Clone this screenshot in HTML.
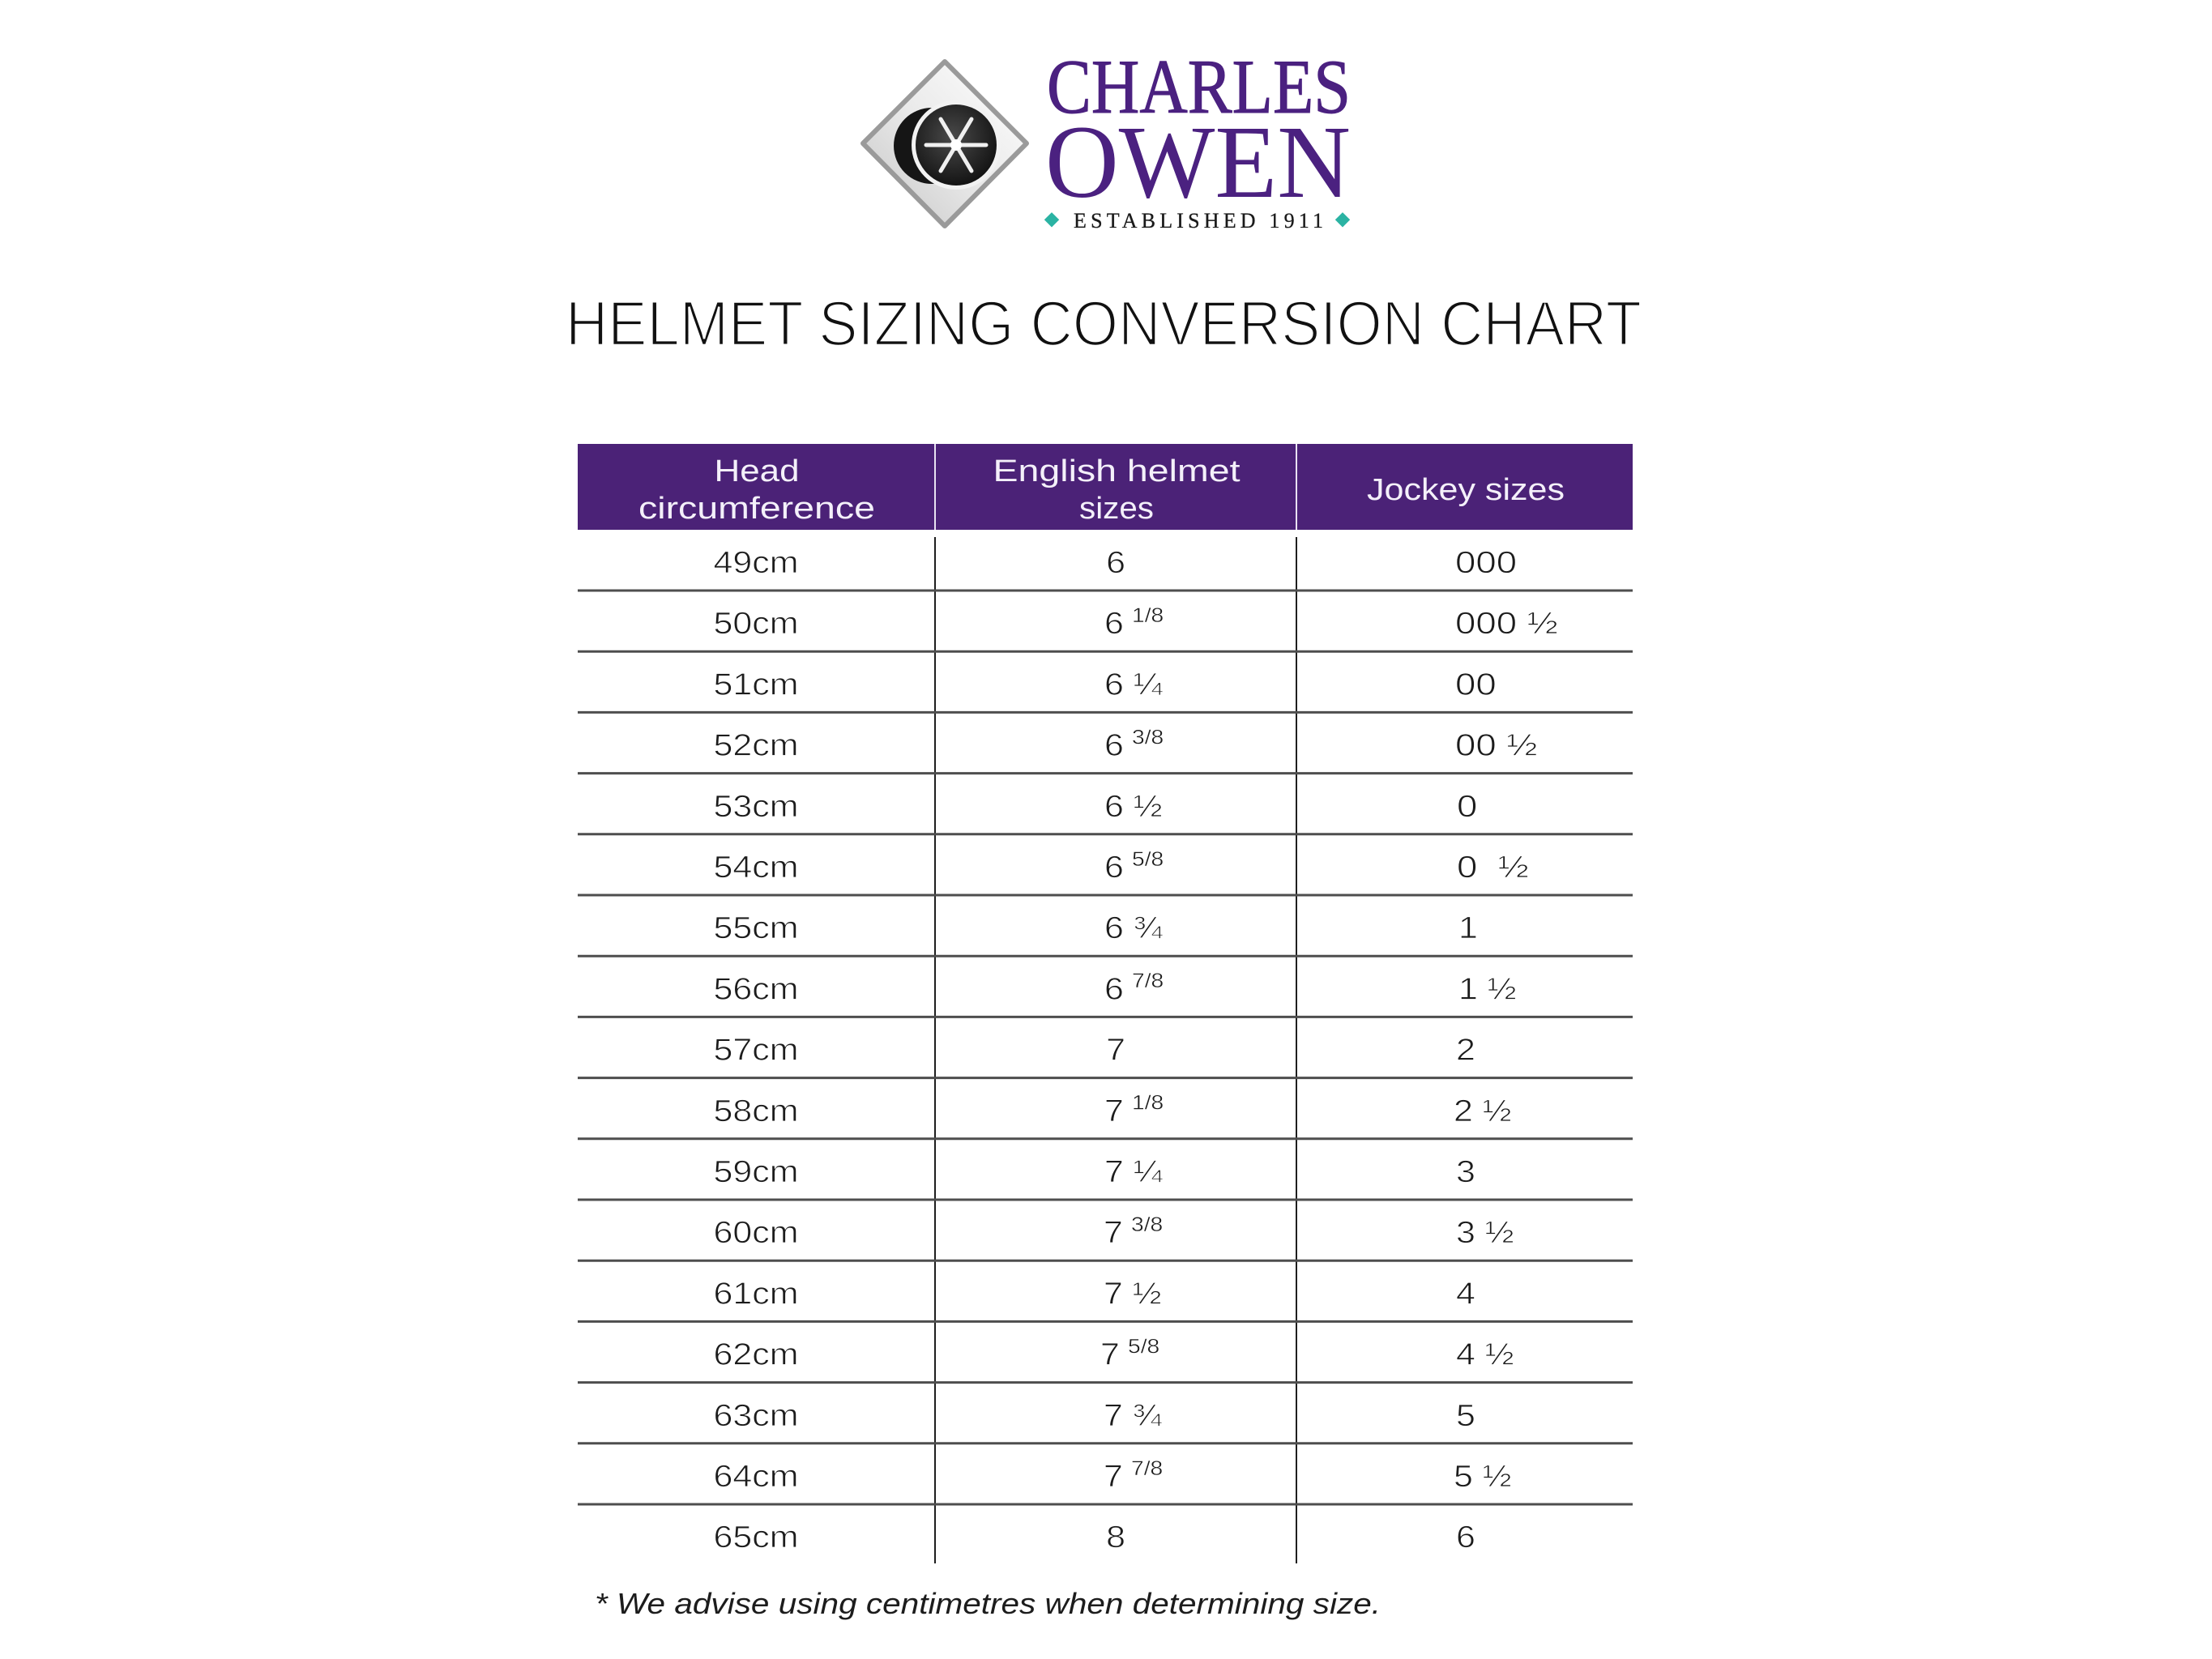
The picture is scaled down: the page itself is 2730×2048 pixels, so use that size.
<!DOCTYPE html>
<html>
<head>
<meta charset="utf-8">
<style>
html,body{margin:0;padding:0;background:#fff;}
body{width:2730px;height:2048px;overflow:hidden;}
svg{display:block;}
.t{font-family:"Liberation Sans",sans-serif;font-size:38px;fill:#1c1c1c;stroke:#fff;stroke-width:0.8px;paint-order:normal;}
.h{font-family:"Liberation Sans",sans-serif;font-size:38px;fill:#f4f0fa;}
.s{font-family:"Liberation Sans",sans-serif;font-size:25px;fill:#1c1c1c;stroke:#fff;stroke-width:0.45px;}
</style>
</head>
<body>
<svg width="2730" height="2048" viewBox="0 0 2730 2048" xmlns="http://www.w3.org/2000/svg">
<defs>
<linearGradient id="silver" x1="1" y1="0" x2="0" y2="1">
<stop offset="0" stop-color="#ffffff"/>
<stop offset="0.5" stop-color="#eaeaea"/>
<stop offset="1" stop-color="#c4c4c4"/>
</linearGradient>
<radialGradient id="disk" cx="0.45" cy="0.4" r="0.6">
<stop offset="0" stop-color="#4a4a4a"/>
<stop offset="1" stop-color="#141414"/>
</radialGradient>
</defs>
<rect width="2730" height="2048" fill="#fff"/>

<!-- Logo icon -->
<polygon points="1166,76 1267,177 1166,279 1065,177" fill="url(#silver)" stroke="#9a9a9a" stroke-width="6" stroke-linejoin="round"/>
<ellipse cx="1150" cy="180" rx="47" ry="47" fill="#151515"/>
<circle cx="1180" cy="179" r="55" fill="#f2f2f2"/>
<circle cx="1180" cy="179" r="50" fill="url(#disk)"/>
<g stroke="#f0f0f0" stroke-width="5" stroke-linecap="round">
<line x1="1143" y1="179" x2="1217" y2="179"/>
<line x1="1161" y1="147" x2="1199" y2="211"/>
<line x1="1199" y1="147" x2="1161" y2="211"/>
</g>
<circle cx="1180" cy="179" r="7" fill="#fff"/>

<!-- Logo text -->
<text x="1292" y="139" font-family="Liberation Serif, serif" font-size="95" fill="#4b2180" stroke="#4b2180" stroke-width="1" textLength="375" lengthAdjust="spacingAndGlyphs">CHARLES</text>
<text x="1290" y="243" font-family="Liberation Serif, serif" font-size="128" fill="#4b2180" textLength="377" lengthAdjust="spacingAndGlyphs">OWEN</text>
<text x="1325" y="281" font-family="Liberation Serif, serif" font-size="26" fill="#1a1a1a" stroke="#1a1a1a" stroke-width="0.3" textLength="308" lengthAdjust="spacing">ESTABLISHED 1911</text>
<rect x="1291" y="265" width="13" height="13" fill="#2bb3a3" transform="rotate(45 1298 272)"/>
<rect x="1650" y="265" width="13" height="13" fill="#2bb3a3" transform="rotate(45 1657 272)"/>

<!-- Title -->
<text x="698" y="426" font-family="Liberation Sans, sans-serif" font-size="78" fill="#111" stroke="#fff" stroke-width="2.6" textLength="1328" lengthAdjust="spacingAndGlyphs">HELMET SIZING CONVERSION CHART</text>

<!-- Header -->
<rect x="713" y="548" width="1302" height="106" fill="#4b2277"/>
<rect x="1153" y="548" width="2" height="106" fill="#e9e2f2"/>
<rect x="1599" y="548" width="2" height="106" fill="#e9e2f2"/>
<text class="h" x="934" y="594" text-anchor="middle" textLength="105" lengthAdjust="spacingAndGlyphs">Head</text>
<text class="h" x="934" y="640" text-anchor="middle" textLength="292" lengthAdjust="spacingAndGlyphs">circumference</text>
<text class="h" x="1378" y="594" text-anchor="middle" textLength="305" lengthAdjust="spacingAndGlyphs">English helmet</text>
<text class="h" x="1378" y="640" text-anchor="middle" textLength="92" lengthAdjust="spacingAndGlyphs">sizes</text>
<text class="h" x="1809" y="617" text-anchor="middle" textLength="244" lengthAdjust="spacingAndGlyphs">Jockey sizes</text>

<!-- Grid lines -->
<g stroke="#1e1e1e" stroke-width="2">
<line x1="1154" y1="663" x2="1154" y2="1930"/>
<line x1="1600" y1="663" x2="1600" y2="1930"/>
</g>
<g stroke="#4e4e4e" stroke-width="3">
<line x1="713" y1="729" x2="2015" y2="729"/>
<line x1="713" y1="804.2" x2="2015" y2="804.2"/>
<line x1="713" y1="879.4" x2="2015" y2="879.4"/>
<line x1="713" y1="954.6" x2="2015" y2="954.6"/>
<line x1="713" y1="1029.8" x2="2015" y2="1029.8"/>
<line x1="713" y1="1105" x2="2015" y2="1105"/>
<line x1="713" y1="1180.2" x2="2015" y2="1180.2"/>
<line x1="713" y1="1255.4" x2="2015" y2="1255.4"/>
<line x1="713" y1="1330.6" x2="2015" y2="1330.6"/>
<line x1="713" y1="1405.8" x2="2015" y2="1405.8"/>
<line x1="713" y1="1481" x2="2015" y2="1481"/>
<line x1="713" y1="1556.2" x2="2015" y2="1556.2"/>
<line x1="713" y1="1631.4" x2="2015" y2="1631.4"/>
<line x1="713" y1="1706.6" x2="2015" y2="1706.6"/>
<line x1="713" y1="1781.8" x2="2015" y2="1781.8"/>
<line x1="713" y1="1857" x2="2015" y2="1857"/>
</g>

<!-- Column 1 -->
<g text-anchor="middle">
<text class="t" transform="translate(933,707) scale(1.13,1)">49cm</text>
<text class="t" transform="translate(933,782.2) scale(1.13,1)">50cm</text>
<text class="t" transform="translate(933,857.4) scale(1.13,1)">51cm</text>
<text class="t" transform="translate(933,932.6) scale(1.13,1)">52cm</text>
<text class="t" transform="translate(933,1007.8) scale(1.13,1)">53cm</text>
<text class="t" transform="translate(933,1083) scale(1.13,1)">54cm</text>
<text class="t" transform="translate(933,1158.2) scale(1.13,1)">55cm</text>
<text class="t" transform="translate(933,1233.4) scale(1.13,1)">56cm</text>
<text class="t" transform="translate(933,1308.6) scale(1.13,1)">57cm</text>
<text class="t" transform="translate(933,1383.8) scale(1.13,1)">58cm</text>
<text class="t" transform="translate(933,1459) scale(1.13,1)">59cm</text>
<text class="t" transform="translate(933,1534.2) scale(1.13,1)">60cm</text>
<text class="t" transform="translate(933,1609.4) scale(1.13,1)">61cm</text>
<text class="t" transform="translate(933,1684.6) scale(1.13,1)">62cm</text>
<text class="t" transform="translate(933,1759.8) scale(1.13,1)">63cm</text>
<text class="t" transform="translate(933,1835) scale(1.13,1)">64cm</text>
<text class="t" transform="translate(933,1910.2) scale(1.13,1)">65cm</text>
</g>

<!-- Column 2 -->
<text class="t" text-anchor="middle" transform="translate(1377,707) scale(1.13,1)">6</text>
<text class="t" transform="translate(1363,782.2) scale(1.13,1)">6</text><text class="s" transform="translate(1397,768) scale(1.13,1)">1/8</text>
<text class="t" transform="translate(1363,857.4) scale(1.13,1)">6 ¼</text>
<text class="t" transform="translate(1363,932.6) scale(1.13,1)">6</text><text class="s" transform="translate(1397,918.4) scale(1.13,1)">3/8</text>
<text class="t" transform="translate(1363,1007.8) scale(1.13,1)">6 ½</text>
<text class="t" transform="translate(1363,1083) scale(1.13,1)">6</text><text class="s" transform="translate(1397,1068.8) scale(1.13,1)">5/8</text>
<text class="t" transform="translate(1363,1158.2) scale(1.13,1)">6 ¾</text>
<text class="t" transform="translate(1363,1233.4) scale(1.13,1)">6</text><text class="s" transform="translate(1397,1219.2) scale(1.13,1)">7/8</text>
<text class="t" text-anchor="middle" transform="translate(1377,1308.6) scale(1.13,1)">7</text>
<text class="t" transform="translate(1363,1383.8) scale(1.13,1)">7</text><text class="s" transform="translate(1397,1369.6) scale(1.13,1)">1/8</text>
<text class="t" transform="translate(1363,1459) scale(1.13,1)">7 ¼</text>
<text class="t" transform="translate(1362,1534.2) scale(1.13,1)">7</text><text class="s" transform="translate(1396,1520) scale(1.13,1)">3/8</text>
<text class="t" transform="translate(1362,1609.4) scale(1.13,1)">7 ½</text>
<text class="t" transform="translate(1358,1684.6) scale(1.13,1)">7</text><text class="s" transform="translate(1392,1670.4) scale(1.13,1)">5/8</text>
<text class="t" transform="translate(1362,1759.8) scale(1.13,1)">7 ¾</text>
<text class="t" transform="translate(1362,1835) scale(1.13,1)">7</text><text class="s" transform="translate(1396,1820.8) scale(1.13,1)">7/8</text>
<text class="t" text-anchor="middle" transform="translate(1377,1910.2) scale(1.13,1)">8</text>

<!-- Column 3 -->
<text class="t" transform="translate(1796,707) scale(1.2,1)">000</text>
<text class="t" transform="translate(1796,782.2) scale(1.2,1)">000 ½</text>
<text class="t" transform="translate(1796,857.4) scale(1.2,1)">00</text>
<text class="t" transform="translate(1796,932.6) scale(1.2,1)">00 ½</text>
<text class="t" transform="translate(1798,1007.8) scale(1.2,1)">0</text>
<text class="t" transform="translate(1798,1083) scale(1.2,1)">0 &#160;½</text>
<text class="t" transform="translate(1800,1158.2) scale(1.13,1)">1</text>
<text class="t" transform="translate(1800,1233.4) scale(1.13,1)">1 ½</text>
<text class="t" transform="translate(1797,1308.6) scale(1.13,1)">2</text>
<text class="t" transform="translate(1794,1383.8) scale(1.13,1)">2 ½</text>
<text class="t" transform="translate(1797,1459) scale(1.13,1)">3</text>
<text class="t" transform="translate(1797,1534.2) scale(1.13,1)">3 ½</text>
<text class="t" transform="translate(1797,1609.4) scale(1.13,1)">4</text>
<text class="t" transform="translate(1797,1684.6) scale(1.13,1)">4 ½</text>
<text class="t" transform="translate(1797,1759.8) scale(1.13,1)">5</text>
<text class="t" transform="translate(1794,1835) scale(1.13,1)">5 ½</text>
<text class="t" transform="translate(1797,1910.2) scale(1.13,1)">6</text>

<!-- Footnote -->
<text x="734" y="1992" font-family="Liberation Sans, sans-serif" font-style="italic" font-size="36" fill="#1c1c1c" textLength="970" lengthAdjust="spacingAndGlyphs">* We advise using centimetres when determining size.</text>
</svg>
</body>
</html>
